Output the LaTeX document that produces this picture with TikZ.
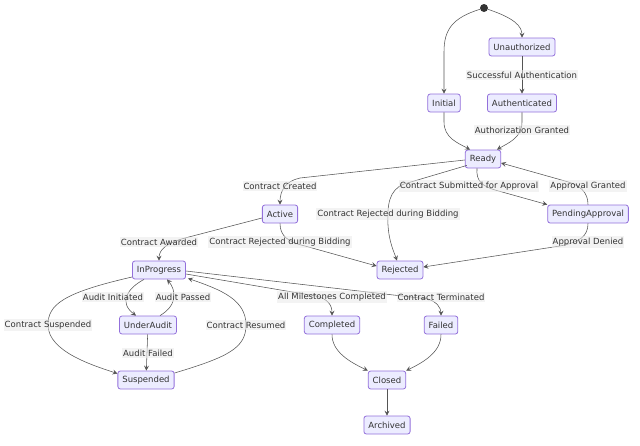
\documentclass[tikz,border=0pt]{standalone}
\usepackage{fontspec}
\setmainfont{DejaVu Sans}
\usetikzlibrary{arrows.meta,calc}
\definecolor{nodefill}{HTML}{ECECFF}
\definecolor{nodeline}{HTML}{9370DB}
\definecolor{txt}{HTML}{333333}
\definecolor{edge}{HTML}{555555}
\definecolor{lblbg}{HTML}{E8E8E8}
\tikzset{
  state/.style={rectangle, rounded corners=2.5pt, draw=nodeline, fill=nodefill, line width=0.8pt,
    text=txt, minimum height=18pt, inner xsep=4.5pt, inner ysep=0pt, font=\fontsize{8.5}{10}\selectfont},
  lbl/.style={fill=lblbg, fill opacity=0.5, text opacity=1, text=txt, inner xsep=1pt, inner ysep=1.5pt, font=\fontsize{8.5}{10}\selectfont},
  tr/.style={draw=edge, line width=0.55pt, -{Stealth[length=5pt,width=5pt,inset=2pt]}},
  startdot/.style={circle, fill=txt, draw=none, minimum size=8pt, inner sep=0pt}
}
\begin{document}
\begin{tikzpicture}[x=1pt,y=-1pt]
\useasboundingbox (0,0) rectangle (640,445);
% nodes
\node[startdot] (start) at (484,8) {};
\node[state] (Unauthorized) at (522,47) {Unauthorized};
\node[state] (Initial) at (444,103) {Initial};
\node[state] (Authenticated) at (522,103) {Authenticated};
\node[state] (Ready) at (483,159) {Ready};
\node[state] (Active) at (280,214) {Active};
\node[state] (PendingApproval) at (588,214) {PendingApproval};
\node[state] (Rejected) at (400,270) {Rejected};
\node[state] (InProgress) at (159,270) {InProgress};
\node[state] (UnderAudit) at (148,325) {UnderAudit};
\node[state] (Completed) at (332,325) {Completed};
\node[state] (Failed) at (441,325) {Failed};
\node[state] (Suspended) at (146,380) {Suspended};
\node[state] (Closed) at (387,380) {Closed};
\node[state] (Archived) at (387,425) {Archived};
% edges
\draw[tr] (start) .. controls (452,18) and (444,30) .. (444,52) -- (Initial.north);
\draw[tr] (start) .. controls (514,18) and (522,26) .. (Unauthorized.north);
\draw[tr] (Unauthorized) -- (Authenticated);
\draw[tr] (Initial.south) -- (444,122) .. controls (444,138) and (458,143) .. ($(Ready.north)+(-13,0)$);
\draw[tr] (Authenticated.south) -- (522,122) .. controls (522,138) and (508,143) .. ($(Ready.north)+(14,0)$);
\draw[tr] ($(Ready.west)+(0,1)$) -- (300,178) .. controls (286,181) and (280,190) .. (Active.north);
\draw[tr] ($(Ready.south west)+(2,-3)$) -- (404,184) .. controls (389,190) and (387,205) .. (388,225) .. controls (389,242) and (394,252) .. ($(Rejected.north)+(-3,0)$);
\draw[tr] ($(Ready.south)+(-6,0)$) .. controls (476,181) and (482,186) .. (495,190) -- (PendingApproval.north west);
\draw[tr] (PendingApproval.north) .. controls (588,192) and (580,185) .. (565,181) -- ($(Ready.east)+(0,4)$);
\draw[tr] (PendingApproval.south) .. controls (588,236) and (580,242) .. (560,246) -- ($(Rejected.east)+(0,-3)$);
\draw[tr] (Active.south) .. controls (280,236) and (288,242) .. (305,246) -- ($(Rejected.west)+(0,-4)$);
\draw[tr] ($(Active.west)+(0,4)$) -- (185,238) .. controls (166,243) and (159,250) .. (InProgress.north);
\draw[tr] ($(InProgress.south)+(-15,0)$) .. controls (128,288) and (118,302) .. ($(UnderAudit.north)+(-12,0)$);
\draw[tr] ($(UnderAudit.north)+(12,0)$) .. controls (178,305) and (176,290) .. ($(InProgress.south)+(8,0)$);
\draw[tr] ($(InProgress.west)+(0,7)$) .. controls (62,293) and (48,305) .. (48,325) .. controls (48,352) and (95,366) .. ($(Suspended.north west)+(0,3)$);
\draw[tr] ($(Suspended.east)+(0,-7)$) .. controls (228,357) and (246,348) .. (246,325) .. controls (246,300) and (222,290) .. ($(InProgress.south east)+(2,-1)$);
\draw[tr] (UnderAudit) -- (Suspended);
\draw[tr] ($(InProgress.east)+(0,4)$) -- (316,296) .. controls (328,299) and (332,305) .. (Completed.north);
\draw[tr] ($(InProgress.east)+(0,1)$) -- (428,299) .. controls (437,302) and (441,308) .. (Failed.north);
\draw[tr] (Completed.south) .. controls (332,352) and (350,362) .. (Closed.north west);
\draw[tr] (Failed.south) .. controls (441,352) and (424,362) .. (Closed.north east);
\draw[tr] (Closed) -- (Archived);
% labels
\node[lbl] (l1) at (522,75) {Successful Authentication};
\node[lbl] (l2) at (522,130) {Authorization Granted};
\node[lbl] (l3) at (280,186) {Contract Created};
\node[lbl] (l4) at (469,186) {Contract Submitted for Approval};
\node[lbl] (l5) at (588,186) {Approval Granted};
\node[lbl] (l6) at (388,214) {Contract Rejected during Bidding};
\node[lbl] (l7) at (159,242) {Contract Awarded};
\node[lbl] (l8) at (280,242) {Contract Rejected during Bidding};
\node[lbl] (l9) at (588,242) {Approval Denied};
\node[lbl] (l10) at (113,297) {Audit Initiated};
\node[lbl] (l11) at (183,297) {Audit Passed};
\node[lbl] (l12) at (48,325) {Contract Suspended};
\node[lbl] (l13) at (246,325) {Contract Resumed};
\node[lbl] (l14) at (148,353) {Audit Failed};
\node[lbl] (l15) at (332,297) {All Milestones Completed};
\node[lbl] (l16) at (441,297) {Contract Terminated};
\end{tikzpicture}
\end{document}
